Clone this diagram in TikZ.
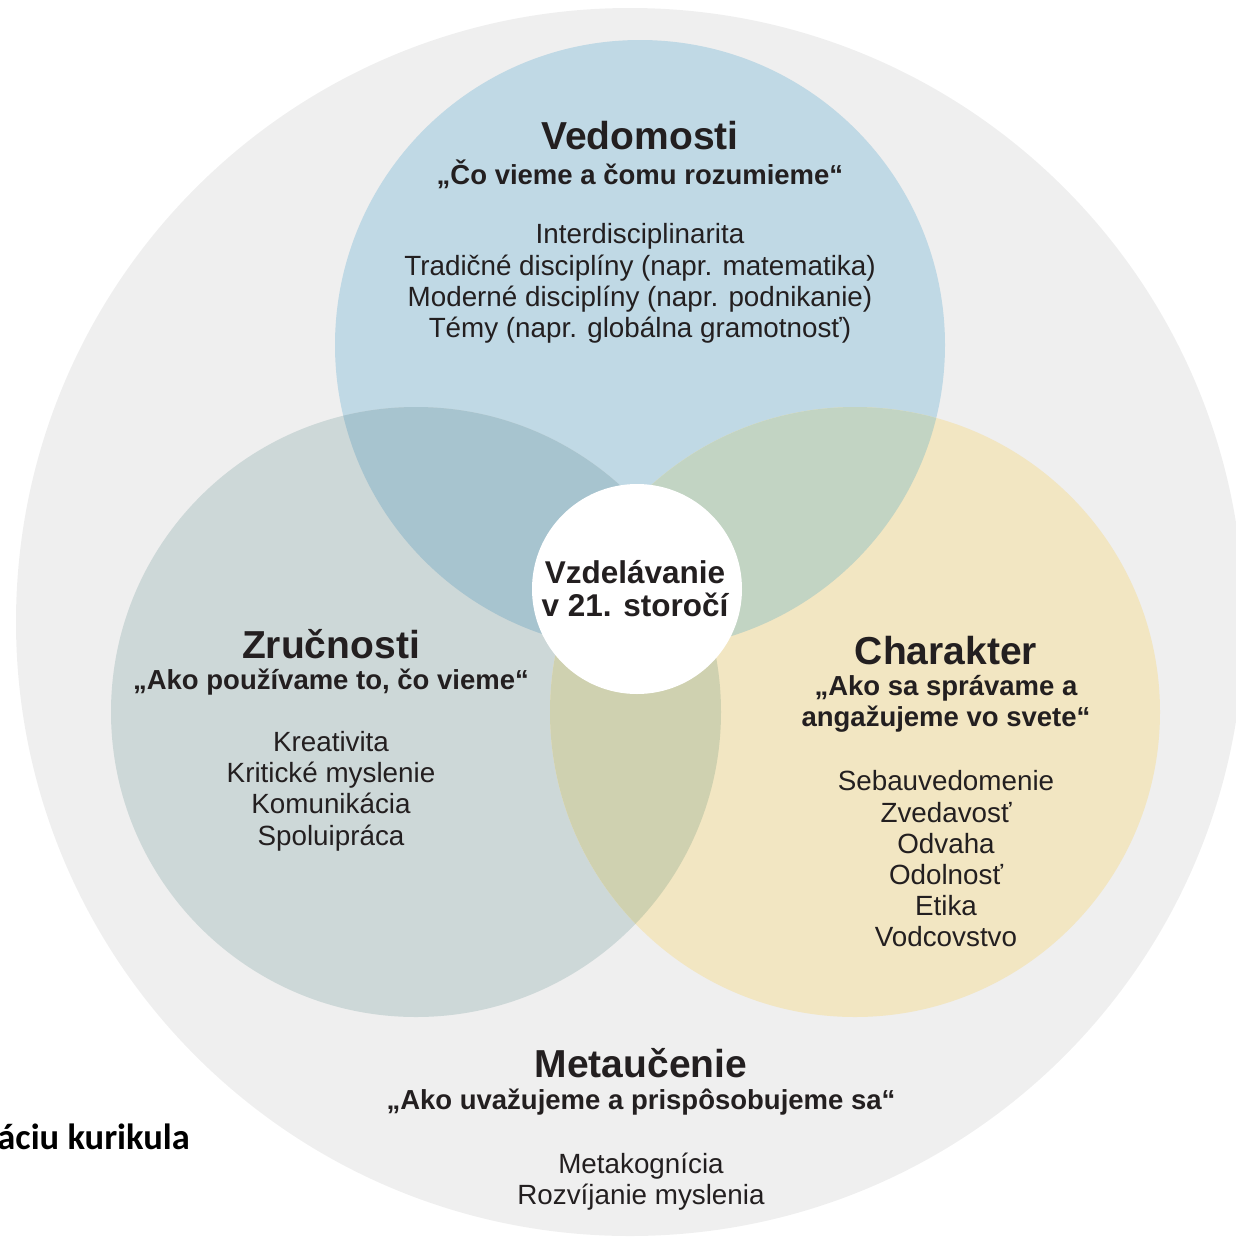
\documentclass[tikz,border=0pt]{standalone}
\usepackage{fontspec}
\setmainfont{Liberation Sans}
\newfontfamily\calibfont{Carlito}
\definecolor{outerc}{HTML}{EFEFEF}
\definecolor{bluec}{HTML}{C0D9E5}
\definecolor{leftc}{HTML}{CDD8D8}
\definecolor{yelc}{HTML}{F2E6C2}
\definecolor{blc}{HTML}{A7C4CF}
\definecolor{byc}{HTML}{C2D4C3}
\definecolor{lyc}{HTML}{CFD1B0}
\definecolor{txt}{HTML}{231F20}
\tikzset{
  head/.style={font=\bfseries\fontsize{39}{44}\selectfont, text=txt, inner sep=0pt},
  subt/.style={font=\bfseries\fontsize{27.5}{31.2}\selectfont, align=center, text=txt, inner sep=0pt},
  bodyt/.style={font=\fontsize{27.8}{31.2}\selectfont, align=center, text=txt, inner sep=0pt},
}
\begin{document}
\begin{tikzpicture}[x=1pt,y=-1pt]
\useasboundingbox (0,0) rectangle (1236,1240);
\fill[outerc] (630,622) circle (614);
\fill[bluec] (640,345) circle (305);
\fill[leftc] (416,712) circle (305);
\fill[yelc] (855,712) circle (305);
\begin{scope}
  \clip (640,345) circle (305);
  \fill[blc] (416,712) circle (305);
  \fill[byc] (855,712) circle (305);
\end{scope}
\begin{scope}
  \clip (416,712) circle (305);
  \fill[lyc] (855,712) circle (305);
\end{scope}
\fill[white] (637,589) circle (105);

% Vedomosti
\node[head] (vedh) at (640,136) {Vedomosti};
\node[subt] (veds) at (640,174) {„Čo vieme a čomu rozumieme“};
\node[bodyt] (vedb) at (640,283.5) {Interdisciplinarita\\Tradičné disciplíny (napr. matematika)\\Moderné disciplíny (napr. podnikanie)\\Témy (napr. globálna gramotnosť)};

% Zrucnosti
\node[head] (zruh) at (331,644) {Zručnosti};
\node[subt] (zrus) at (331,682) {„Ako používame to, čo vieme“};
\node[bodyt] (zrub) at (331,791) {Kreativita\\Kritické myslenie\\Komunikácia\\Spoluipráca};

% Charakter
\node[head] (chah) at (946,651) {Charakter};
\node[subt] (chas) at (946,703.5) {„Ako sa správame a\\angažujeme vo svete“};
\node[bodyt] (chab) at (946,859) {Sebauvedomenie\\Zvedavosť\\Odvaha\\Odolnosť\\Etika\\Vodcovstvo};

% Metaucenie
\node[head] (meth) at (641,1063) {Metaučenie};
\node[subt] (mets) at (641,1102) {„Ako uvažujeme a prispôsobujeme sa“};
\node[bodyt] (metb) at (641,1181.5) {Metakognícia\\Rozvíjanie myslenia};

% Center
\node[font=\bfseries\fontsize{31.5}{33}\selectfont, align=center, text=txt, inner sep=0pt] (center) at (635,589) {Vzdelávanie\\v 21. storočí};

% cut-off caption
\node[font=\calibfont\bfseries\fontsize{36.5}{40}\selectfont, text=black, anchor=east, inner sep=0pt] (cap) at (190,1137) {áciu kurikula};
\end{tikzpicture}
\end{document}
